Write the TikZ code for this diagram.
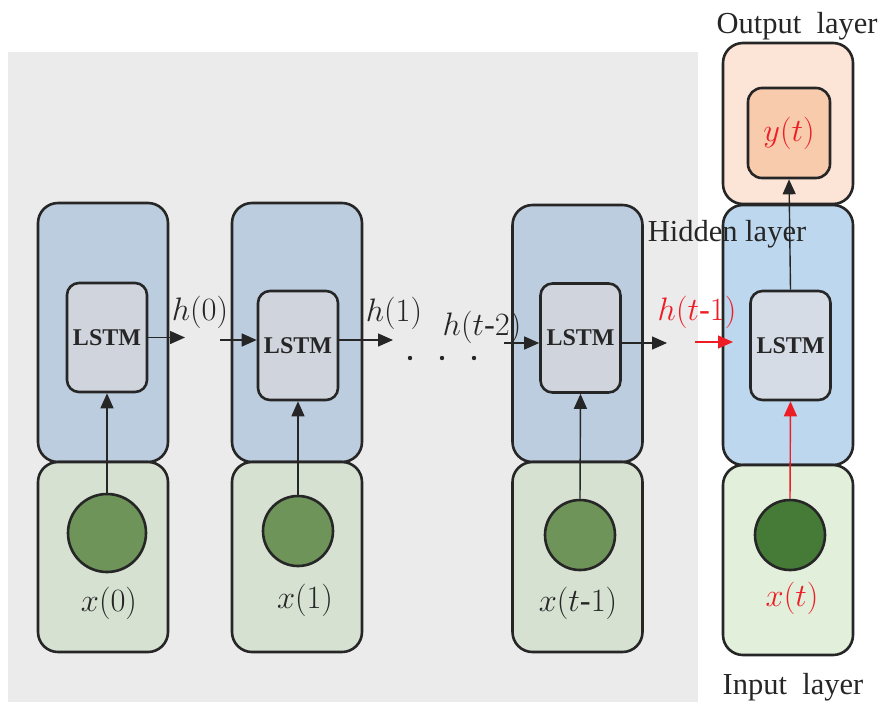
\documentclass[tikz,border=0pt]{standalone}
\usepackage{fix-cm}
\usepackage{fontspec}
\setmainfont{Liberation Serif}
\usetikzlibrary{arrows.meta}
\definecolor{ink}{HTML}{262626}
\definecolor{panel}{HTML}{EBEBEB}
\definecolor{hidA}{HTML}{BCCDE0}
\definecolor{hidB}{HTML}{BDD7EE}
\definecolor{inA}{HTML}{D6E1D2}
\definecolor{inB}{HTML}{E2EFDA}
\definecolor{dotA}{HTML}{6F945A}
\definecolor{dotB}{HTML}{467A37}
\definecolor{cellA}{HTML}{CFD4DD}
\definecolor{cellB}{HTML}{D6DCE5}
\definecolor{outA}{HTML}{FCE4D6}
\definecolor{outB}{HTML}{F8CBAD}
\definecolor{hot}{HTML}{EE1C25}
\newcommand{\hy}{\mbox{-}}
\begin{document}
\begin{tikzpicture}[x=1pt,y=-1pt,
  layerbox/.style={draw=ink,line width=2.6pt,rounded corners=20pt,minimum width=130pt,inner sep=0pt},
  cellbox/.style={draw=ink,line width=2.6pt,rounded corners=12pt,minimum width=80pt,minimum height=109pt,inner sep=0pt,
    font=\fontsize{24}{26}\selectfont\bfseries,text=ink},
  unit/.style={circle,draw=ink,line width=2.6pt,inner sep=0pt},
  lbl/.style={font=\fontsize{32.5}{34}\selectfont,text=ink,inner sep=0pt},
  layercap/.style={font=\fontsize{30.5}{32}\selectfont,text=ink,inner sep=0pt},
  flow/.style={draw=ink,line width=1.4pt,-{Triangle[length=15pt,width=13pt]}},
  hotflow/.style={draw=hot,line width=1.4pt,-{Triangle[length=15pt,width=13pt]}}]
\useasboundingbox (0,0) rectangle (880,702);
% shaded panel behind the unrolled steps
\fill[panel] (8,52) rectangle (698,702);

% hidden layers
\node[layerbox,fill=hidA,minimum height=259pt] (hid1) at (103,332.5) {};
\node[layerbox,fill=hidA,minimum height=259pt] (hid2) at (297,332.5) {};
\node[layerbox,fill=hidA,minimum height=257pt] (hid3) at (577.5,333.5) {};
\node[layerbox,fill=hidB,minimum height=260pt] (hid4) at (788,335) {};
% input layers
\node[layerbox,fill=inA,minimum height=190pt] (in1) at (103,557) {};
\node[layerbox,fill=inA,minimum height=190pt] (in2) at (297,557) {};
\node[layerbox,fill=inA,minimum height=190pt] (in3) at (577.5,557) {};
\node[layerbox,fill=inB,minimum height=190pt] (in4) at (788,560) {};
% output layer
\node[layerbox,fill=outA,minimum height=161pt] (out) at (788,123.5) {};
\node[draw=ink,line width=2.6pt,rounded corners=14pt,fill=outB,minimum width=82pt,minimum height=90pt,inner sep=0pt,
  font=\fontsize{32.5}{34}\selectfont,text=hot] (yt) at (789,133) {$y(t)$};

% LSTM cells
\node[cellbox,fill=cellA] (lstm1) at (107,337.5) {LSTM};
\node[cellbox,fill=cellA] (lstm2) at (298,345.5) {LSTM};
\node[cellbox,fill=cellA] (lstm3) at (580.5,338) {LSTM};
\node[cellbox,fill=cellB] (lstm4) at (790.5,345.5) {LSTM};

% input units
\node[unit,fill=dotA,minimum size=78pt] (x1) at (107,533) {};
\node[unit,fill=dotA,minimum size=70pt] (x2) at (298,531) {};
\node[unit,fill=dotA,minimum size=70pt] (x3) at (580,535) {};
\node[unit,fill=dotB,minimum size=70pt] (x4) at (790,535) {};

% input labels
\node[lbl] (lx1) at (109,603) {$x(0)$};
\node[lbl] (lx2) at (305,600) {$x(1)$};
\node[lbl] (lx3) at (578,603) {$x(t\hy1)$};
\node[lbl,text=hot] (lx4) at (792,598) {$x(t)$};

% vertical connections
\draw[flow] (x1.north) -- (lstm1.south);
\draw[flow] (x2.north) -- (lstm2.south);
\draw[flow] (x3.north) -- (lstm3.south);
\draw[hotflow] (x4.north) -- (lstm4.south);
\draw[flow] (lstm4.north) -- (yt.south);

% recurrent connections
\coordinate (o1) at (185,337.5);
\coordinate (i2) at (220,340);
\coordinate (o2) at (393,340);
\coordinate (i3) at (504,343);
\coordinate (o3) at (667,343);
\coordinate (r1) at (695,342);
\coordinate (r2) at (733,342);
\draw[flow] (lstm1.east) -- (o1);
\draw[flow] (i2) -- (i2 -| lstm2.west);
\draw[flow] (o2 -| lstm2.east) -- (o2);
\draw[flow] (i3) -- (i3 -| lstm3.west);
\draw[flow] (o3 -| lstm3.east) -- (o3);
\draw[hotflow] (r1) -- (r2);

% state labels
\node[lbl] (h0) at (200,312) {$h(0)$};
\node[lbl] (h1) at (394,313) {$h(1)$};
\node[lbl] (h2) at (482,327) {$h(t\hy2)$};
\node[lbl,text=hot] (h3) at (697,312) {$h(t\hy1)$};

% ellipsis between steps
\fill[ink] (410,358) circle (2.2pt) (442,358) circle (2.2pt) (474,358) circle (2.2pt);

% layer captions
\node[layercap] (capout) at (797,26) {Output~ layer};
\node[layercap] (caphid) at (727,234) {Hidden layer};
\node[layercap] (capin) at (793,687) {Input~ layer};
\end{tikzpicture}
\end{document}
